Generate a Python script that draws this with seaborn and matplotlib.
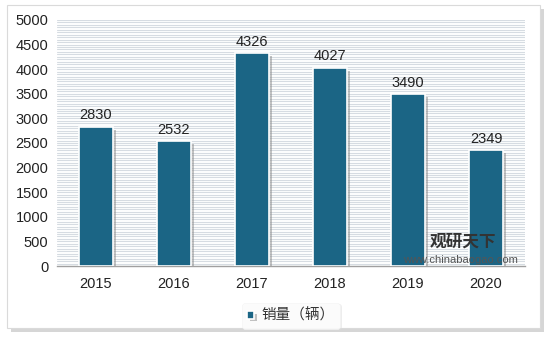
import matplotlib
matplotlib.use("Agg")
import matplotlib.pyplot as plt
import matplotlib.patheffects as pe
from matplotlib.patches import Rectangle
import seaborn as sns
import pandas as pd
import numpy as np

years = ["2015", "2016", "2017", "2018", "2019", "2020"]
sales = [2830, 2532, 4326, 4027, 3490, 2349]
series_name = "销量（辆）"

sns.set_theme(style="white")
plt.rcParams['font.family'] = ['Liberation Sans', 'Noto Sans CJK SC', 'DejaVu Sans']

df = pd.DataFrame({"year": years, "value": sales, "series": series_name})

fig = plt.figure(figsize=(5.51, 3.38), dpi=100)
fig.patch.set_facecolor("white")
# outer frame with shadow
frame = Rectangle((0.012, 0.03), 0.968, 0.955, transform=fig.transFigure,
                  facecolor="white", edgecolor="#DADADA", linewidth=0.8, zorder=-5,
                  path_effects=[pe.SimplePatchShadow(offset=(3, -3), shadow_rgbFace="#BBBBBB", alpha=0.6), pe.Normal()])
fig.patches.append(frame)

ax = fig.add_axes([0.103, 0.213, 0.85, 0.728])
ax.set_facecolor("white")
bar_color = "#1B6585"
sns.barplot(data=df, x="year", y="value", hue="series", palette=[bar_color], saturation=1,
            width=0.44, ax=ax, edgecolor="white", linewidth=1.2, zorder=3)

for p in ax.patches:
    p.set_path_effects([pe.SimplePatchShadow(offset=(2, -2), shadow_rgbFace="#888888", alpha=0.5), pe.Normal()])

ax.set_ylim(0, 5000)
ax.set_yticks(np.arange(0, 5001, 500))
ax.set_yticks(np.arange(0, 5001, 50), minor=True)
ax.grid(axis="y", which="both", color="#D6DCE2", linewidth=0.8, zorder=0)
ax.set_axisbelow(True)
ax.set_xlabel("")
ax.set_ylabel("")
for s in ["top", "right", "left"]:
    ax.spines[s].set_visible(False)
ax.spines["bottom"].set_color("#A0A0A0")
ax.spines["bottom"].set_linewidth(1.0)
ax.tick_params(axis="both", which="both", length=0, labelsize=10.5, colors="#222222")
ax.tick_params(axis="y", pad=6)
ax.tick_params(axis="x", pad=8)

for i, v in enumerate(sales):
    ax.text(i, v + 90, str(v), ha="center", va="bottom", fontsize=10.5, color="#222222", zorder=5)

leg = ax.legend(loc="upper center", bbox_to_anchor=(0.5, -0.12), frameon=True,
                handlelength=0.45, handleheight=0.45, handletextpad=0.5,
                prop={"family": ["Noto Sans CJK SC", "DejaVu Sans"], "size": 10.5})
leg.get_frame().set_edgecolor("#F2F2F2")
leg.get_frame().set_linewidth(0.5)
leg.get_frame().set_path_effects([pe.SimplePatchShadow(offset=(1, -1), shadow_rgbFace="#DDDDDD", alpha=0.5), pe.Normal()])
for t in leg.get_texts():
    t.set_color("#333333")

# watermark
fig.text(0.84, 0.285, "观研天下", ha="center", va="center", fontsize=12, fontweight="bold",
         color="#333333", family=["Noto Sans CJK SC"], zorder=10)
fig.text(0.835, 0.232, "www.chinabaogao.com", ha="center", va="center", fontsize=8,
         color="#555555", zorder=10)

fig.savefig("out.png", dpi=100)
